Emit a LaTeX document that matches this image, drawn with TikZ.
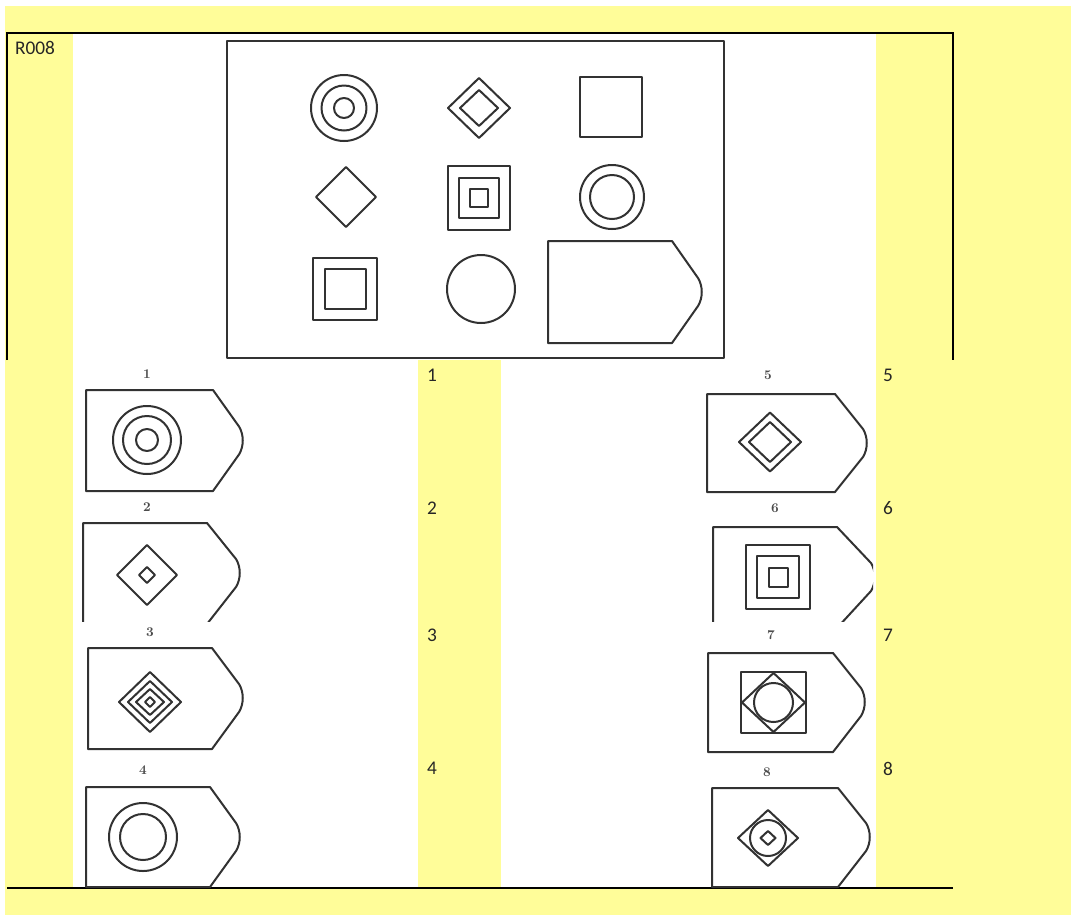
\documentclass[tikz,border=0pt]{standalone}
\usepackage{fontspec}
\newfontfamily\calfont{Carlito}
\definecolor{bgyellow}{RGB}{255,253,153}
\definecolor{ink}{RGB}{50,50,50}
\newcommand\tagshape[6]{\draw[fig] (#1,#2) -- (#4,#2) -- ({#5-4},{#6-14}) .. controls ({#5+1},{#6-6}) and ({#5+1},{#6+6}) .. ({#5-4},{#6+14}) -- (#4,#3) -- (#1,#3) -- cycle;}
\newcommand\dmd[4]{\draw[fig] ({#1-#3},#2) -- (#1,{#2-#4}) -- ({#1+#3},#2) -- (#1,{#2+#4}) -- cycle;}
\newcommand\sqr[4]{\draw[fig] ({#1-#3},{#2-#4}) rectangle ({#1+#3},{#2+#4});}
\newcommand\crc[3]{\draw[fig] (#1,#2) circle[radius=#3];}
\begin{document}
\begin{tikzpicture}[x=0.75pt,y=-0.75pt,
  fig/.style={draw=ink, line width=1.5pt, line join=round},
  frameline/.style={draw=black, line width=1.1pt},
  cellnum/.style={font=\calfont\fontsize{14.5}{16}\selectfont, inner sep=0pt, text=black!85},
  scannum/.style={font=\fontsize{10}{11}\selectfont\bfseries, inner sep=0pt, text=black!70}]
\useasboundingbox (0,0) rectangle (1071,915);
\fill[white] (0,0) rectangle (1071,915);
\fill[bgyellow] (5,6) rectangle (1071,915);
% white cells
\fill[white] (73,34) rectangle (876,360);
\fill[white] (73,360) rectangle (418,888);
\fill[white] (501,360) rectangle (876,888);
% frame
\draw[frameline] (7,360) -- (7,33) -- (953,33) -- (953,360);
\draw[frameline] (7,888) -- (953,888);
% labels
\node[cellnum] (r008) at (35,47.5) {R008};
\node[cellnum] (n1) at (432,375) {1};
\node[cellnum] (n2) at (432,508.5) {2};
\node[cellnum] (n3) at (432,635) {3};
\node[cellnum] (n4) at (432,768.5) {4};
\node[cellnum] (n5) at (888,375) {5};
\node[cellnum] (n6) at (888,508.5) {6};
\node[cellnum] (n7) at (888,635) {7};
\node[cellnum] (n8) at (888,768.5) {8};
% top matrix
\draw[fig, line width=2pt] (227,41) rectangle (724,358);
\crc{344}{108}{33}\crc{344}{108}{22.5}\crc{344}{108}{10}
\dmd{479}{108}{31}{30}\dmd{479}{108}{19}{18}
\sqr{611}{107}{31}{30}
\dmd{346}{197}{30}{30}
\sqr{479}{198}{31}{32}\sqr{479}{198}{20}{20}\sqr{479}{198}{9}{9}
\crc{612}{197}{32}\crc{612}{197}{22}
\sqr{345}{289}{32}{31}\sqr{345}{289}{20.5}{20}
\crc{481}{289}{34}
\tagshape{548}{241}{343}{672}{702}{292}
% option 1
\node[scannum] (s1) at (147,374) {1};
\tagshape{86}{390}{491}{213}{243}{440.5}
\crc{147}{440}{34}\crc{147}{440}{24}\crc{147}{440}{11}
% option 2
\node[scannum] (s2) at (147,507) {2};
\begin{scope}
\clip (73,500) rectangle (418,621);
\tagshape{83}{523}{624}{207}{240}{573}
\end{scope}
\dmd{147}{575}{30}{30}\dmd{147}{575}{8}{8}
% option 3
\node[scannum] (s3) at (150,632) {3};
\tagshape{88}{648}{749}{212}{243}{698}
\dmd{150}{702}{31}{30}\dmd{150}{702}{22}{21}\dmd{150}{702}{14}{13}\dmd{150}{702}{5}{5}
% option 4
\node[scannum] (s4) at (143,770) {4};
\tagshape{86}{787}{887}{210}{240}{837}
\crc{143}{837}{34}\crc{143}{837}{23}
% option 5
\node[scannum] (s5) at (768,375) {5};
\tagshape{707}{394}{492}{835}{867}{443}
\dmd{770}{442}{31}{29.5}\dmd{770}{442}{21}{20}
% option 6
\node[scannum] (s6) at (775,508) {6};
\begin{scope}
\clip (501,500) rectangle (873,621);
\tagshape{713}{527}{628}{837}{875}{577}
\end{scope}
\sqr{778}{577}{32}{32}\sqr{778}{577}{21}{21}\sqr{778}{577}{9.5}{9.5}
% option 7
\node[scannum] (s7) at (771,635) {7};
\tagshape{708}{653}{752}{833}{865}{702}
\sqr{773.5}{702.5}{32.5}{30.5}\dmd{773.5}{702.5}{31.5}{29.5}\crc{773.5}{702.5}{19.5}
% option 8
\node[scannum] (s8) at (767,772) {8};
\tagshape{712}{788}{887}{838}{870}{837}
\dmd{768}{838}{30}{28}\crc{768}{838}{18}\dmd{768}{838}{7.5}{7}
\end{tikzpicture}
\end{document}
